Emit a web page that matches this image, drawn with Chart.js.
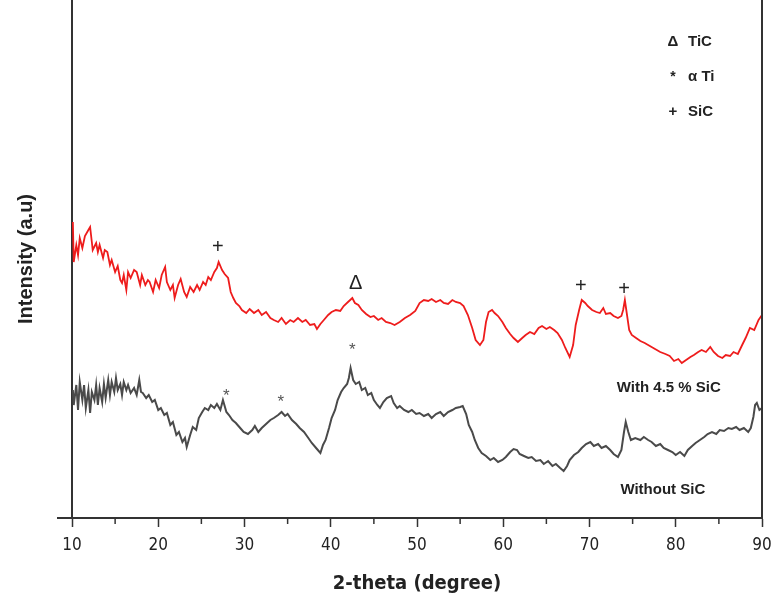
<!DOCTYPE html>
<html>
<head>
<meta charset="utf-8">
<script src="https://cdn.jsdelivr.net/npm/chart.js@4.4.1/dist/chart.umd.min.js"></script>
<style>
  html,body{margin:0;padding:0;background:#fff}
  #wrap{width:772px;height:600px;position:relative}
</style>
</head>
<body>
<div id="wrap"><canvas id="xrd"></canvas></div>
<script>
/* XRD patterns — 2-theta vs intensity (arbitrary units) */

/* ─── DATA ─────────────────────────────────────────── */
const xTicks=[10,20,30,40,50,60,70,80,90];

// With 4.5 % SiC (red)
const redTheta=[10.1,10.2,10.5,10.7,10.9,11.2,11.5,11.9,12.1,12.3,12.4,12.8,13.0,13.2,13.6,13.8,14.1,14.4,14.6,15.0,
  15.3,15.6,15.8,16.0,16.3,16.5,16.8,17.2,17.5,17.9,18.1,18.5,18.8,19.0,19.4,19.7,20.1,20.4,20.8,21.0,
  21.4,21.7,21.9,22.3,22.6,23.0,23.3,23.7,24.1,24.5,24.8,25.2,25.5,25.8,26.1,26.5,26.8,27.0,27.4,27.7,
  28.1,28.4,28.7,29.0,29.4,29.7,30.2,30.6,31.1,31.6,32.0,32.5,33.0,33.4,33.9,34.3,34.8,35.3,35.7,36.2,
  36.7,37.1,37.6,38.1,38.4,38.8,39.2,39.7,40.1,40.6,41.1,41.5,42.0,42.5,42.8,43.2,43.6,44.1,44.6,45.0,
  45.5,45.9,46.4,46.9,47.4,48.0,48.6,49.2,49.8,50.3,50.8,51.3,51.7,52.2,52.7,53.1,53.6,54.1,54.5,55.0,
  55.4,55.9,56.4,56.8,57.3,57.7,58.0,58.3,58.7,59.0,59.4,59.9,60.3,60.8,61.2,61.7,62.2,62.6,63.1,63.6,
  64.1,64.5,65.0,65.4,65.9,66.3,66.8,67.2,67.7,68.1,68.4,68.8,69.1,69.5,69.8,70.3,70.8,71.2,71.6,71.9,
  72.4,72.8,73.3,73.7,73.9,74.1,74.3,74.6,74.9,75.4,75.9,76.4,77.0,77.6,78.2,78.8,79.3,79.8,80.3,80.7,
  81.2,81.7,82.1,82.6,83.0,83.5,84.0,84.4,84.9,85.4,85.8,86.3,86.7,87.2,87.7,88.1,88.6,89.1,89.6,90.0];
const redI=[296,256,273,263,280,270,282,288,291,276,268,275,266,273,260,268,266,253,258,246,
  252,238,235,243,228,246,240,248,246,233,243,233,238,236,226,238,230,243,251,236,
  228,233,220,233,239,226,221,231,226,233,228,236,233,241,238,246,250,256,248,244,
  240,226,220,215,212,208,205,209,205,208,203,206,200,198,196,200,194,198,196,200,
  196,198,193,194,189,194,198,203,206,208,207,212,216,220,215,213,208,204,201,202,
  198,200,196,195,193,196,200,203,207,215,218,217,219,216,218,215,214,218,216,215,
  212,203,190,178,173,178,196,206,208,205,202,196,190,184,180,176,180,183,186,184,
  190,192,189,191,188,185,178,170,161,173,193,208,218,215,212,208,206,205,210,204,
  205,202,200,202,208,218,206,188,183,180,177,175,172,169,166,164,162,157,159,155,
  158,161,163,166,168,166,171,166,162,160,163,162,166,164,173,180,190,188,198,203];

// Without SiC (grey)
const grayTheta=[10.1,10.2,10.5,10.7,10.9,11.2,11.4,11.6,11.9,12.1,12.3,12.6,12.8,13.0,13.2,13.5,13.7,13.9,14.2,14.4,
  14.6,14.9,15.1,15.3,15.6,15.8,16.0,16.3,16.5,16.8,17.2,17.5,17.8,18.0,18.2,18.6,18.9,19.3,19.6,20.0,
  20.3,20.7,21.0,21.4,21.7,22.1,22.4,22.8,23.1,23.3,23.7,24.0,24.4,24.7,25.1,25.4,25.8,26.1,26.5,26.8,
  27.2,27.5,27.9,28.2,28.6,29.0,29.5,29.9,30.4,30.9,31.2,31.6,32.0,32.5,33.0,33.4,33.9,34.3,34.7,35.0,
  35.5,36.0,36.4,36.9,37.4,37.8,38.3,38.8,39.1,39.4,39.8,40.1,40.5,40.8,41.2,41.5,41.9,42.1,42.3,42.6,
  42.9,43.3,43.6,44.0,44.3,44.7,45.0,45.4,45.7,46.1,46.5,47.0,47.3,47.7,48.0,48.5,49.0,49.4,49.9,50.3,
  50.8,51.3,51.7,52.2,52.7,53.1,53.6,54.1,54.5,55.0,55.3,55.7,56.0,56.4,56.7,57.1,57.5,58.0,58.5,58.9,
  59.4,59.9,60.3,60.8,61.2,61.6,61.9,62.4,62.9,63.3,63.8,64.3,64.7,65.2,65.7,66.1,66.6,67.0,67.4,67.7,
  68.2,68.7,69.1,69.6,70.1,70.5,71.0,71.4,71.9,72.4,72.8,73.3,73.7,74.0,74.2,74.5,74.8,75.3,75.9,76.3,
  76.8,77.2,77.7,78.2,78.6,79.1,79.6,80.0,80.5,81.0,81.4,81.9,82.3,82.8,83.3,83.7,84.2,84.7,85.1,85.6,
  86.1,86.5,87.0,87.4,87.9,88.4,88.7,89.0,89.2,89.4,89.7,90.0];
const grayI=[128,113,133,108,136,118,133,110,128,105,126,118,133,113,130,116,134,120,138,123,
  136,126,140,128,134,123,136,128,133,125,130,123,138,126,125,120,123,116,118,108,
  110,103,105,93,96,83,86,76,80,71,83,91,88,100,106,110,108,113,110,114,
  108,118,106,103,98,95,90,86,84,88,92,86,90,94,98,100,103,106,102,104,
  98,94,90,86,80,75,70,65,73,78,90,100,108,118,126,130,134,140,150,138,
  134,136,128,130,123,125,118,113,110,116,120,122,115,110,112,108,106,108,104,105,
  102,104,100,104,106,102,106,108,110,111,112,104,93,86,78,70,65,62,58,60,
  56,58,61,66,69,68,64,62,60,61,57,58,54,57,52,54,50,47,52,58,
  63,66,70,74,76,72,74,70,72,68,64,61,68,86,96,86,78,80,78,81,
  78,76,72,74,70,68,66,63,66,62,68,72,75,78,81,84,86,84,88,87,
  90,89,91,88,90,86,90,101,113,115,108,110];

// peak markers
const markTheta=[26.9,42.9,69.0,74.0,42.5,27.9,34.2];
const markI=[271,235,232,229,168,122,116];
const markSym=['+','\u0394','+','+','*','*','*'];

// key (top right) and series captions
const keySym=['\u0394','*','+'];
const keyText=['TiC','\u03b1 Ti','SiC'];
const captionText=['With 4.5 % SiC','Without SiC'];
const captionTheta=[79.2,78.5];
const captionI=[130,28];

/* ─── HELPERS ─────────────────────────────────────── */
const pts=(xs,ys)=>xs.map((x,i)=>({x,y:ys[i]}));
const AX='#333';
const SANS="'Liberation Sans', Arial, sans-serif";
const COND="'DejaVu Sans Condensed', 'Liberation Sans', sans-serif";

/* ─── OVERLAY PLUGIN: frame, minor ticks, labels ─── */
const overlay={
  id:'overlay',
  afterDraw(chart){
    const {ctx,chartArea:a,scales:{x,y}}=chart;
    ctx.save();
    ctx.strokeStyle=AX;ctx.lineWidth=2;
    // right frame + left extension of the bottom axis
    ctx.beginPath();ctx.moveTo(a.right,a.top);ctx.lineTo(a.right,a.bottom);ctx.stroke();
    ctx.beginPath();ctx.moveTo(a.left-15,a.bottom);ctx.lineTo(a.left,a.bottom);ctx.stroke();
    // minor ticks at 5s
    ctx.lineWidth=1.5;
    for(let v=15;v<90;v+=10){const px=x.getPixelForValue(v);ctx.beginPath();ctx.moveTo(px,a.bottom);ctx.lineTo(px,a.bottom+6);ctx.stroke();}
    // peak markers
    ctx.textAlign='center';ctx.textBaseline='middle';
    markSym.forEach((s,i)=>{
      const grey=s==='*';
      ctx.fillStyle=grey?'#555':'#222';
      ctx.font=(grey?'17px ':'20px ')+SANS;
      ctx.fillText(s,x.getPixelForValue(markTheta[i]),y.getPixelForValue(markI[i]));
    });
    // captions
    ctx.fillStyle='#222';ctx.font='bold 15px '+SANS;
    captionText.forEach((t,i)=>ctx.fillText(t,x.getPixelForValue(captionTheta[i]),y.getPixelForValue(captionI[i])));
    // key
    keySym.forEach((s,i)=>{
      const yy=42+i*35;
      ctx.textAlign='center';ctx.font=(s==='*'?'bold 14px ':'bold 15px ')+SANS;
      ctx.fillText(s,673,yy);
      ctx.textAlign='left';ctx.font='bold 15px '+SANS;
      ctx.fillText(keyText[i],688,yy);
    });
    ctx.restore();
  }
};

/* ─── CHART ───────────────────────────────────────── */
new Chart(document.getElementById('xrd'),{
  type:'line',
  data:{datasets:[
    {label:'With 4.5 % SiC',data:pts(redTheta,redI),borderColor:'#ee1c1c',borderWidth:1.8,pointRadius:0,tension:0},
    {label:'Without SiC',data:pts(grayTheta,grayI),borderColor:'#4a4a4a',borderWidth:2,pointRadius:0,tension:0}
  ]},
  options:{
    responsive:true,maintainAspectRatio:false,animation:false,
    layout:{padding:{top:0,right:0,left:0,bottom:0}},
    plugins:{legend:{display:false},tooltip:{enabled:false}},
    scales:{
      x:{type:'linear',min:10,max:90,
        afterFit(s){s.height=82;s.paddingLeft=0;s.paddingRight=10;},
        afterBuildTicks(s){s.ticks=xTicks.map(v=>({value:v}));},
        border:{display:true,color:AX,width:2},
        grid:{drawOnChartArea:false,drawTicks:true,tickLength:9,tickWidth:1.5,tickColor:AX},
        ticks:{color:'#222',padding:8,font:{family:COND,size:17},maxRotation:0,autoSkip:false},
        title:{display:true,text:'2-theta (degree)',color:'#222',font:{family:COND,size:20,weight:'bold'},padding:{top:0,bottom:4}}
      },
      y:{min:0,max:518,
        afterFit(s){s.width=72;},
        border:{display:true,color:AX,width:2},
        grid:{display:false},
        ticks:{display:false},
        title:{display:true,text:'Intensity (a.u)',color:'#222',font:{family:SANS,size:20,weight:'bold'},padding:{top:14,bottom:0}}
      }
    }
  },
  plugins:[overlay]
});
</script>
</body>
</html>
